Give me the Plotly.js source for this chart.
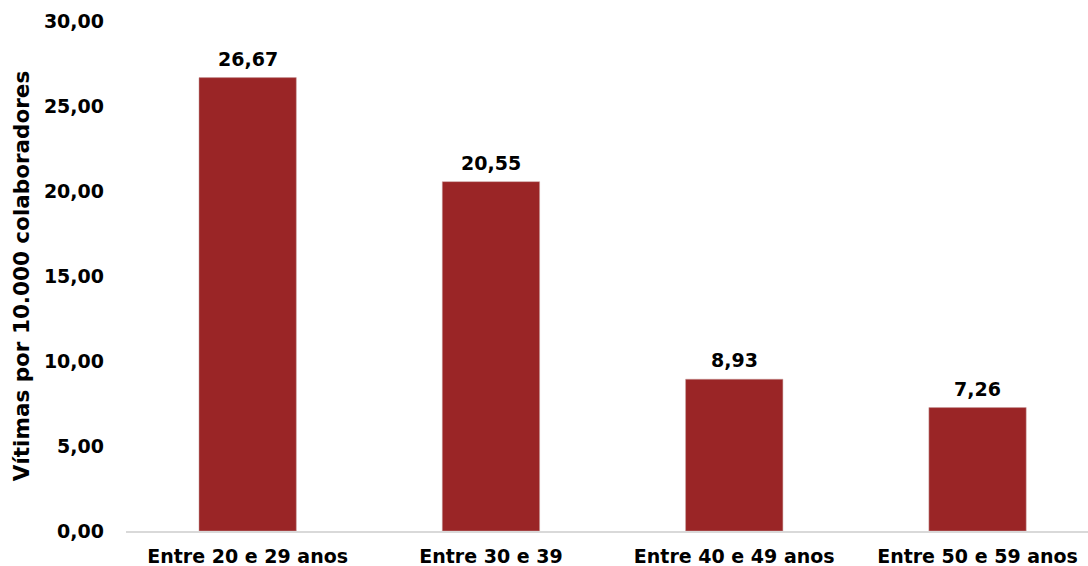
<!DOCTYPE html>
<html>
<head>
<meta charset="utf-8">
<script src="https://cdn.plot.ly/plotly-3.0.1.min.js"></script>
<style>html,body{margin:0;padding:0;background:#fff}#chart{width:1088px;height:566px}</style>
</head>
<body>
<div id="chart"></div>
<script>
const categories = ["Entre 20 e 29 anos", "Entre 30 e 39", "Entre 40 e 49 anos", "Entre 50 e 59 anos"];
const values = [26.67, 20.55, 8.93, 7.26];
const tickVals = [0, 5, 10, 15, 20, 25, 30];

const fontFam = "'DejaVu Sans', sans-serif";
const labels = values.map(v => v.toFixed(2).replace('.', ','));
const trace = {
  type: 'bar',
  x: categories,
  y: values,
  marker: {color: '#9A2526', line: {color: '#c9a0a0', width: 0.5}},
  hoverinfo: 'none'
};
const annotations = categories.map((c, i) => ({
  x: c, y: values[i], xref: 'x', yref: 'y',
  text: labels[i], showarrow: false, yanchor: 'bottom', yshift: 6,
  font: {family: fontFam, size: 19, color: '#000', weight: 'bold'}
}));
const layout = {
  width: 1088, height: 566,
  margin: {l: 126, r: 0, t: 21, b: 35, pad: 0},
  paper_bgcolor: '#fff', plot_bgcolor: '#fff',
  separators: ',.',
  bargap: 0.6,
  showlegend: false,
  font: {family: fontFam, color: '#000'},
  annotations: annotations,
  xaxis: {
    range: [-0.5, 3.454],
    showgrid: false, zeroline: false,
    showline: true, linecolor: '#d9d9d9', linewidth: 2,
    ticks: '', ticklabelstandoff: 7,
    tickfont: {family: fontFam, size: 19, color: '#000', weight: 'bold'}
  },
  yaxis: {
    range: [0, 30], tickvals: tickVals, tickformat: '.2f',
    showgrid: false, zeroline: false, showline: false,
    ticks: '', ticklabelstandoff: 21,
    tickfont: {family: fontFam, size: 19, color: '#000', weight: 'bold'},
    title: {text: 'Vítimas por 10.000 colaboradores', font: {family: fontFam, size: 21.5, color: '#000', weight: 'bold'}, standoff: 8}
  }
};
Plotly.newPlot('chart', [trace], layout, {displayModeBar: false, staticPlot: true});
</script>
</body>
</html>
